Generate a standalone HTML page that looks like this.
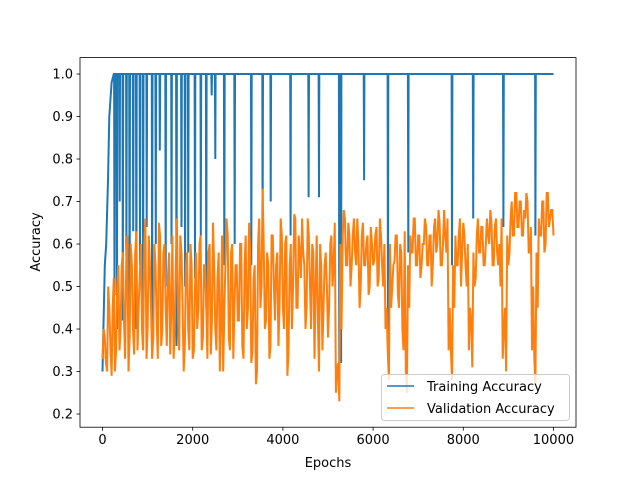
<!DOCTYPE html>
<html><head><meta charset="utf-8"><style>
body{margin:0;background:#fff}
svg{font-family:"DejaVu Sans","Liberation Sans",sans-serif}
</style></head><body>
<svg id="chart" width="640" height="480" xmlns="http://www.w3.org/2000/svg">
<rect width="640" height="480" fill="#fff"/>
<g id="plot"></g>
<g id="axes"></g>
<text x="328" y="467" font-size="13" text-anchor="middle">Epochs</text>
<text transform="translate(40,242) rotate(-90)" font-size="13" text-anchor="middle">Accuracy</text>
<g>
<rect x="381.5" y="374.5" width="188" height="46" rx="3" fill="#fff" fill-opacity="0.8" stroke="#ccc"/>
<line x1="387" y1="386" x2="414" y2="386" stroke="#1f77b4" stroke-width="1.5"/>
<text x="427" y="391" font-size="13">Training Accuracy</text>
<line x1="387" y1="408" x2="414" y2="408" stroke="#ff7f0e" stroke-width="1.5"/>
<text x="427" y="413" font-size="13">Validation Accuracy</text>
</g>
</svg>
<script>
const xTicks=[0,2000,4000,6000,8000,10000];
const yTicks=[0.2,0.3,0.4,0.5,0.6,0.7,0.8,0.9,1.0];
const valStep=50;
const valValues=[.33,.38,.30,.45,.29,.52,.35,.55,.40,.58,.33,.62,.38,.55,.34,.63,.45,.60,.35,.66,.40,
.55,.33,.60,.42,.65,.36,.58,.45,.52,.34,.62,.40,.66,.35,.58,.30,.55,.40,.60,.33,
.50,.40,.60,.35,.55,.45,.58,.34,.65,.40,.52,.30,.62,.44,.66,.38,.58,.33,.55,.42,
.60,.36,.55,.40,.65,.32,.52,.27,.60,.45,.73,.40,.58,.33,.62,.50,.55,.36,.66,.45,
.60,.29,.55,.40,.67,.45,.62,.52,.58,.40,.66,.50,.60,.33,.62,.30,.55,.45,.58,.38,
.60,.50,.65,.30,.23,.40,.68,.55,.65,.50,.62,.58,.66,.45,.62,.55,.60,.48,.64,.55,
.62,.50,.66,.55,.60,.45,.28,.45,.55,.62,.48,.60,.40,.63,.25,.45,.58,.66,.55,.62,
.52,.60,.66,.55,.62,.50,.64,.58,.68,.55,.60,.62,.66,.45,.28,.45,.55,.62,.50,.65,
.55,.60,.45,.31,.50,.62,.58,.64,.55,.60,.62,.68,.55,.64,.58,.60,.66,.40,.30,.55,
.66,.62,.72,.64,.70,.62,.68,.72,.58,.64,.50,.27,.45,.62,.70,.58,.72,.64,.68,.62];
const valMid=[.40,.32,.50,.36,.45,.30,.50,.35,.55,.42,.55,.30,.60,.40,.58,.35,.52,.40,.60,.33,
.62,.45,.38,.55,.33,.62,.40,.60,.36,.58,.45,.33,.55,.42,.62,.45,.36,.58,.35,.55,
.35,.58,.45,.62,.38,.55,.33,.60,.42,.55,.35,.58,.40,.30,.55,.62,.35,.60,.45,.55,
.42,.60,.33,.62,.45,.58,.35,.55,.30,.66,.50,.60,.42,.55,.36,.62,.42,.58,.45,.62,
.40,.62,.35,.60,.50,.66,.45,.58,.66,.55,.45,.62,.40,.58,.50,.42,.60,.35,.55,.50,
.45,.62,.55,.25,.32,.60,.62,.66,.55,.62,.55,.66,.55,.60,.50,.65,.55,.62,.50,.60,
.56,.64,.52,.62,.50,.40,.35,.60,.50,.56,.62,.45,.58,.35,.30,.55,.62,.58,.66,.55,
.62,.55,.60,.64,.55,.62,.55,.66,.60,.65,.55,.68,.58,.35,.35,.55,.62,.55,.66,.58,
.62,.50,.35,.42,.58,.52,.66,.58,.64,.55,.66,.60,.65,.55,.66,.55,.50,.33,.45,.62,
.58,.70,.62,.72,.64,.70,.62,.66,.70,.58,.35,.33,.58,.66,.62,.70,.60,.72,.66,.68];
const trainRampEpochs=[0,20,50,80,120,150,200,250];
const trainRampValues=[0.30,0.40,0.55,0.60,0.75,0.90,0.98,1.0];
const spikeEpochs=[265,320,380,450,530,600,680,750,830,900,980,1100,1180,1270,1400,1530,1640,1750,1830,1900,2050,2180,2300,2420,2500,2700,2930,3300,3550,3730,4170,4570,4800,5250,5290,5800,6330,6780,7750,8220,8890,9600];
const spikeMins=[0.48,0.40,0.70,0.42,0.55,0.38,0.63,0.40,0.55,0.45,0.64,0.40,0.60,0.82,0.50,0.60,0.36,0.64,0.50,0.58,0.52,0.62,0.45,0.95,0.80,0.55,0.60,0.55,0.64,0.70,0.62,0.71,0.71,0.30,0.32,0.75,0.35,0.58,0.55,0.66,0.64,0.62];
const trainEnd=10000;

const X0=80,X1=576,Y0=57.6,Y1=427.2,xmin=-500,xmax=10500,ymin=0.169,ymax=1.0386;
const sx=e=>X0+(e-xmin)/(xmax-xmin)*(X1-X0);
const sy=v=>Y1-(v-ymin)/(ymax-ymin)*(Y1-Y0);
const NS='http://www.w3.org/2000/svg';
const plot=document.getElementById('plot'),axes=document.getElementById('axes');
function mk(t,a,p){const e=document.createElementNS(NS,t);for(const k in a)e.setAttribute(k,a[k]);p.appendChild(e);return e;}

let tp=[];
trainRampEpochs.forEach((e,i)=>tp.push([e,trainRampValues[i]]));
spikeEpochs.forEach((e,i)=>{tp.push([e-8,1]);tp.push([e,spikeMins[i]]);tp.push([e+8,1]);});
tp.push([trainEnd,1]);
tp.sort((a,b)=>a[0]-b[0]);
const tl=mk('polyline',{points:tp.map(p=>sx(p[0]).toFixed(1)+','+sy(p[1]).toFixed(1)).join(' '),fill:'none',stroke:'#1f77b4','stroke-width':2},plot);


let vp=[];
valValues.forEach((v,i)=>{vp.push([i*valStep,v]);if(i<valMid.length)vp.push([i*valStep+valStep/2,valMid[i]]);});
const vl=mk('polyline',{points:vp.map(p=>sx(p[0]).toFixed(1)+','+sy(p[1]).toFixed(1)).join(' '),fill:'none',stroke:'#ff7f0e','stroke-width':2},plot);



const fr=mk('rect',{x:X0,y:Y0,width:X1-X0,height:Y1-Y0,fill:'none',stroke:'#000','stroke-width':0.8},axes);


xTicks.forEach(t=>{const x=sx(t);
 mk('line',{x1:x,y1:Y1,x2:x,y2:Y1+3.5,stroke:'#000','stroke-width':0.8},axes);
 const tx=mk('text',{x:x,y:Y1+17,'font-size':13,'text-anchor':'middle'},axes);tx.textContent=t;
 
 });
yTicks.forEach(t=>{const y=sy(t);
 mk('line',{x1:X0-3.5,y1:y,x2:X0,y2:y,stroke:'#000','stroke-width':0.8},axes);
 const tx=mk('text',{x:X0-7,y:y+4.5,'font-size':13,'text-anchor':'end'},axes);tx.textContent=t.toFixed(1);
 
 });
</script>
</body></html>
